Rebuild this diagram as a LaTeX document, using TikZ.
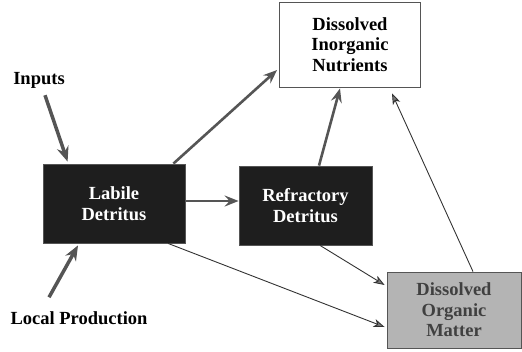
\documentclass[tikz,border=0pt]{standalone}
\usepackage{fontspec}
\setmainfont{Liberation Serif}[BoldFont={Liberation Serif Bold}]
\usetikzlibrary{arrows.meta,positioning}
\definecolor{PoolDark}{HTML}{1E1E1E}
\definecolor{PoolLight}{HTML}{B4B4B4}
\definecolor{FlowGray}{HTML}{7A7A7A}
\definecolor{EdgeGray}{HTML}{555555}

\begin{document}
\begin{tikzpicture}[
    x=1pt,y=-1pt,
    every node/.style={font=\rmfamily\bfseries\fontsize{18.5}{20.5}\selectfont},
    box/.style={draw=EdgeGray,line width=0.8pt,align=center,inner sep=2pt},
    darkbox/.style={box,fill=PoolDark,text=white},
    label/.style={align=center,inner sep=1pt},
    bigflow/.style={-{Stealth[length=15pt,width=12pt,inset=5pt,fill=FlowGray]},
                    line width=3.5pt,draw=EdgeGray},
    flow/.style={-{Stealth[length=14pt,width=11pt,inset=5pt,fill=FlowGray]},
                 line width=2.6pt,draw=EdgeGray},
    thinflow/.style={-{Stealth[length=11pt,width=8pt,inset=3pt,fill=FlowGray]},
                     line width=0.9pt,draw=black!80}
  ]
    \useasboundingbox (0,0) rectangle (522,351);
    \node[box,fill=white,minimum width=141pt,minimum height=85pt] (din) at (350,44.5)
      {Dissolved\\Inorganic\\Nutrients};
    \node[darkbox,minimum width=142pt,minimum height=79pt] (labile) at (114,203.5)
      {Labile\\Detritus};
    \node[darkbox,minimum width=133pt,minimum height=79pt] (refr) at (305.5,205.5)
      {Refractory\\Detritus};
    \node[box,fill=PoolLight,text=black!75,minimum width=134pt,minimum height=76pt] (dom) at (454,310)
      {Dissolved\\Organic\\Matter};
    \node[label] (inputs) at (39,80) {Inputs};
    \node[label] (local) at (79,318) {Local Production};

    \draw[bigflow] ([xshift=6pt,yshift=-6pt]inputs.south) -- ([xshift=25pt,yshift=2pt]labile.north west);
    \draw[bigflow] ([xshift=-30pt,yshift=13pt]local.north) -- ([xshift=-36pt,yshift=-2pt]labile.south);
    \draw[flow] ([xshift=-12pt]labile.north east) -- ([xshift=-2pt,yshift=-25.5pt]din.west);
    \draw[flow] ([yshift=2.5pt]labile.east) -- ([yshift=2.5pt]labile.east -| refr.west);
    \draw[flow] ([xshift=13.5pt]refr.north) -- ([xshift=-10pt,yshift=-1pt]din.south);
    \draw[thinflow] ([xshift=19pt]dom.north) -- ([xshift=42pt,yshift=-6pt]din.south);
    \draw[thinflow] ([xshift=14.5pt]refr.south) -- ([xshift=-2pt,yshift=25pt]dom.west);
    \draw[thinflow] ([xshift=54pt]labile.south) -- ([xshift=-2pt,yshift=-17pt]dom.west);
  \end{tikzpicture}
\end{document}
